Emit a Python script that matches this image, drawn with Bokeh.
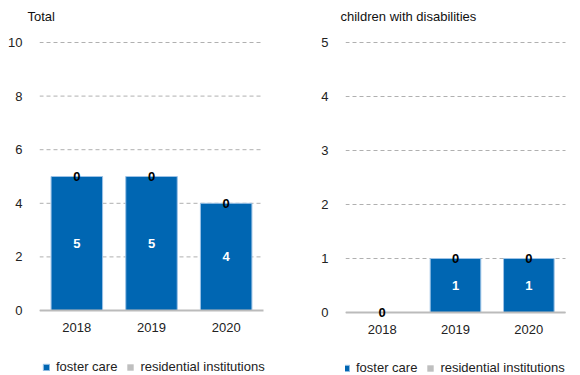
from bokeh.plotting import figure
from bokeh.models import ColumnDataSource, Range1d, FixedTicker, Legend, LegendItem
from bokeh.layouts import row
from bokeh.core.properties import value
from bokeh.embed import file_html
from bokeh.resources import INLINE

years = ["2018", "2019", "2020"]
series = ["foster care", "residential institutions"]
colors = ["#0066B2", "#BFBFBF"]

total_foster = [5, 5, 4]
total_resid = [0, 0, 0]
dis_foster = [0, 1, 1]
dis_resid = [0, 0, 0]

FONT = "Liberation Sans"


def make(title, foster, resid, ymax, step, w, h, left_px, span_end_px, border_r,
         top_px, zero_px, frame_top, title_off, leg_dx, leg_dy):
    n = len(years)
    xs = list(range(n))
    # pixel layout -> data ranges (frame is larger than the plotted area so the
    # legend below and the wide legend label are not clipped)
    frame_w = w - border_r - left_px
    span_w = span_end_px - left_px
    x_end = -0.5 + n * frame_w / span_w
    ppu = (zero_px - top_px) / ymax
    y_start = -(h - zero_px) / ppu
    y_end = ymax + (top_px - frame_top) / ppu

    p = figure(x_range=Range1d(-0.5, x_end), y_range=Range1d(y_start, y_end),
               width=w, height=h, output_backend="svg", toolbar_location=None,
               min_border_left=left_px, min_border_right=border_r,
               min_border_top=frame_top, min_border_bottom=0)
    p.outline_line_color = None
    p.title.text = title
    p.title.text_font = FONT
    p.title.text_font_size = "13px"
    p.title.text_font_style = "normal"
    p.title.text_color = "#111111"
    p.title.align = "left"
    p.title.offset = title_off
    p.title.standoff = 5

    ticks = list(range(0, ymax + 1, step))
    # dashed gridlines over the category span
    p.segment(x0=[-0.5] * len(ticks), x1=[n - 0.5] * len(ticks), y0=ticks, y1=ticks,
              line_color="#B0B0B0", line_dash="4 3", line_width=1)

    src = ColumnDataSource(dict(x=xs, foster=foster, resid=resid))
    rs = p.vbar_stack(["foster", "resid"], x="x", width=0.69, source=src,
                      color=colors, line_color=["#9CC2E6", None], line_width=1)

    # baseline
    p.segment(x0=[-0.5], x1=[n - 0.5], y0=[0], y1=[0], line_color="#BBBBBB", line_width=2)

    # labels
    fx = [x for x, v in zip(xs, foster) if v > 0]
    fy = [v / 2 for v in foster if v > 0]
    ft = [str(v) for v in foster if v > 0]
    p.text(x=fx, y=fy, text=ft, text_color="white", text_font=value(FONT),
           text_font_size="13px", text_font_style="bold", text_align="center", text_baseline="middle")
    ry = [a + b for a, b in zip(foster, resid)]
    rt = [str(v) for v in resid]
    p.text(x=xs, y=ry, text=rt, text_color="black", text_font=value(FONT),
           text_font_size="13px", text_font_style="bold", text_align="center", text_baseline="middle")

    p.xgrid.grid_line_color = None
    p.ygrid.grid_line_color = None
    p.yaxis.ticker = FixedTicker(ticks=ticks)
    p.yaxis.axis_line_color = None
    p.yaxis.major_tick_line_color = None
    p.yaxis.minor_tick_line_color = None
    p.yaxis.major_label_standoff = 11
    p.yaxis.major_label_text_font = FONT
    p.yaxis.major_label_text_font_size = "13px"
    p.yaxis.major_label_text_color = "#222222"

    p.xaxis.fixed_location = 0
    p.xaxis.ticker = FixedTicker(ticks=xs)
    p.xaxis.major_label_overrides = {x: y for x, y in zip(xs, years)}
    p.xaxis.axis_line_color = None
    p.xaxis.major_tick_line_color = None
    p.xaxis.minor_tick_line_color = None
    p.xaxis.major_label_standoff = 6
    p.xaxis.major_label_text_font = FONT
    p.xaxis.major_label_text_font_size = "13px"
    p.xaxis.major_label_text_color = "#222222"

    leg = Legend(items=[LegendItem(label=s, renderers=[r]) for s, r in zip(series, rs)],
                 orientation="horizontal", location=(leg_dx, leg_dy),
                 glyph_width=8, glyph_height=8, label_standoff=6, spacing=9,
                 padding=0, margin=0, border_line_color=None, background_fill_alpha=0,
                 label_text_font=FONT, label_text_font_size="13px", label_text_color="#222222")
    p.add_layout(leg, "center")
    return p


p1 = make("Total", total_foster, total_resid, 10, 2, 290, 375, 39, 263, 3,
          42, 310, 26, -12, 3, 1)
p2 = make("children with disabilities", dis_foster, dis_resid, 5, 1, 290, 375, 55, 275, 2,
          42, 312, 26, -5, -3, 0)

layout = row(p1, p2)
open("out.html", "w").write(file_html(layout, INLINE))
